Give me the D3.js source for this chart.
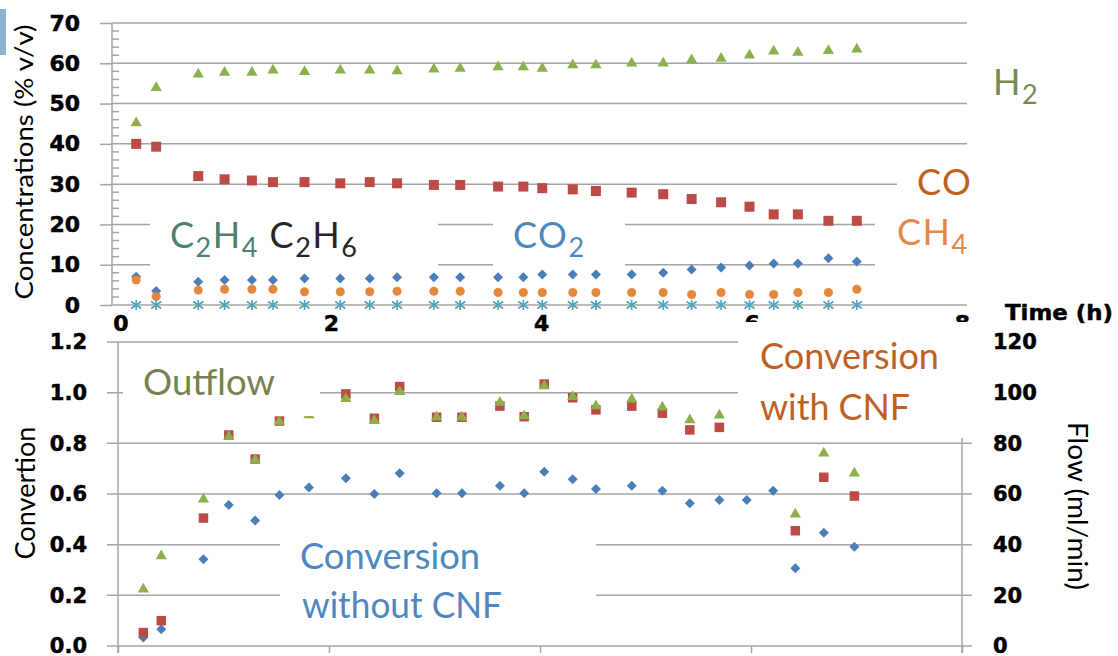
<!DOCTYPE html>
<html>
<head>
<meta charset="utf-8">
<script src="https://cdn.jsdelivr.net/npm/d3@7"></script>
<style>
  html, body { margin: 0; padding: 0; background: #fff; }
  svg { display: block; }
</style>
</head>
<body>
<div id="chart"></div>
<script>
var width = 1118;
var height = 656;

// top panel: gas concentrations (% v/v) against time (h)
var timeConc = [0.15, 0.34, 0.74, 0.99, 1.25, 1.45, 1.75, 2.09, 2.37, 2.63, 2.98, 3.23, 3.59,
                3.83, 4.01, 4.30, 4.52, 4.86, 5.16, 5.43, 5.71, 5.98, 6.21, 6.44, 6.73, 7.00];
var h2  = [45.2, 53.9, 57.3, 57.7, 57.7, 58.3, 57.9, 58.3, 58.3, 58.1, 58.5, 58.7, 59.1,
           59.1, 58.7, 59.6, 59.6, 60.0, 60.0, 60.8, 61.2, 62.0, 63.0, 62.7, 63.1, 63.5];
var co  = [40.0, 39.3, 32.0, 31.2, 30.9, 30.5, 30.5, 30.2, 30.5, 30.2, 29.8, 29.8, 29.4,
           29.4, 29.0, 28.7, 28.3, 27.9, 27.5, 26.3, 25.5, 24.4, 22.5, 22.5, 20.9, 20.9];
var co2 = [7.0, 3.5, 5.8, 6.2, 6.2, 6.2, 6.6, 6.6, 6.6, 6.9, 6.9, 6.9, 6.9,
           6.9, 7.6, 7.6, 7.6, 7.6, 8.0, 8.8, 9.3, 9.8, 10.3, 10.3, 11.6, 10.8];
var ch4 = [6.2, 2.1, 3.7, 3.9, 3.9, 3.9, 3.3, 3.3, 3.3, 3.4, 3.4, 3.4, 3.1,
           3.1, 3.1, 3.1, 3.1, 3.1, 3.1, 2.6, 3.1, 2.6, 2.6, 3.1, 3.1, 3.9];
var c2h4 = [0, 0, 0, 0, 0, 0, 0, 0, 0, 0, 0, 0, 0,
            0, 0, 0, 0, 0, 0, 0, 0, 0, 0, 0, 0, 0];
var concTicks = [0, 10, 20, 30, 40, 50, 60, 70];
var timeTicks = [0, 2, 4, 6, 8];

// bottom panel: conversion and outflow against time (h)
var timeConv = [0.24, 0.41, 0.81, 1.05, 1.30, 1.53, 1.81, 2.16, 2.43, 2.67, 3.02, 3.26, 3.62,
                3.85, 4.04, 4.31, 4.53, 4.87, 5.16, 5.42, 5.70, 5.96, 6.21, 6.42, 6.69, 6.98];
var outflow = [22.4, 35.5, 57.9, 82.6, 73.4, 88.6, 91.2, 97.6, 88.9, 100.4, 90.3, 90.3, 96.1,
               90.8, 102.6, 98.4, 94.7, 97.4, 94.2, 89.2, 91.1, null, null, 52.0, 76.1, 68.2];
var convWith = [0.053, 0.100, 0.505, 0.833, 0.738, 0.888, null, 0.995, 0.899, 1.024, 0.903, 0.903, 0.947,
                0.905, 1.034, 0.980, 0.932, 0.947, 0.919, 0.853, 0.863, null, null, 0.455, 0.666, 0.592];
var convWithout = [0.034, 0.066, 0.342, 0.557, 0.495, 0.596, 0.626, 0.662, 0.600, 0.682, 0.603, 0.603, 0.633,
                   0.603, 0.688, 0.658, 0.620, 0.633, 0.613, 0.563, 0.576, 0.576, 0.613, 0.307, 0.447, 0.392];
var convTicks = [0, 0.2, 0.4, 0.6, 0.8, 1.0, 1.2];
var flowTicks = [0, 20, 40, 60, 80, 100, 120];

var GRID = "#a4a4a4";
var TICK_FONT = "'DejaVu Sans', sans-serif";
var LABEL_FONT = "Lato, 'Open Sans', sans-serif";

var symDiamond = {
  draw: function(ctx, size) {
    var r = Math.sqrt(size / 2);
    ctx.moveTo(0, -r); ctx.lineTo(r, 0); ctx.lineTo(0, r); ctx.lineTo(-r, 0); ctx.closePath();
  }
};
var symStar = {
  draw: function(ctx, size) {
    var r = Math.sqrt(size) / 2;
    ctx.moveTo(0, -r); ctx.lineTo(0, r);
    ctx.moveTo(-r, -r * 0.7); ctx.lineTo(r, r * 0.7);
    ctx.moveTo(-r, r * 0.7); ctx.lineTo(r, -r * 0.7);
  }
};

function drawSeries(g, xs, ys, x, y, type, size, fill, stroke) {
  var pts = xs.map(function(t, i) { return [t, ys[i]]; })
    .filter(function(d) { return d[1] !== null; });
  g.append("g").selectAll("path")
    .data(pts)
    .enter()
    .append("path")
    .attr("transform", function(d) { return "translate(" + x(d[0]) + "," + y(d[1]) + ")"; })
    .attr("d", d3.symbol().type(type).size(size))
    .attr("fill", fill || "none")
    .attr("stroke", stroke || "none")
    .attr("stroke-width", stroke ? 1.6 : 0);
}

function styleAxis(g, size) {
  g.select(".domain").remove();
  g.selectAll(".tick line").attr("stroke", GRID).attr("stroke-width", 1.5);
  g.selectAll(".tick text")
    .attr("fill", "#000")
    .attr("stroke", "#000")
    .attr("stroke-width", 0.5)
    .attr("font-family", TICK_FONT)
    .attr("font-weight", "bold")
    .attr("font-size", size);
}

function whiteBoxes(svg, boxes) {
  svg.append("g").selectAll("rect")
    .data(boxes)
    .enter()
    .append("rect")
    .attr("x", function(d) { return d[0]; })
    .attr("y", function(d) { return d[1]; })
    .attr("width", function(d) { return d[2]; })
    .attr("height", function(d) { return d[3]; })
    .attr("fill", "#fff");
}

// text with chemical subscripts: parts = [[text, isSub, colour], ...]
function chemLabel(svg, x, y, parts, color, size) {
  var t = svg.append("text")
    .attr("x", x).attr("y", y)
    .attr("font-family", LABEL_FONT)
    .attr("font-size", size)
    .attr("letter-spacing", 1.5);
  var down = false;
  parts.forEach(function(p) {
    var s = t.append("tspan").text(p[0]).attr("fill", p[2] || color);
    if (p[1]) {
      s.attr("font-size", size * 0.75).attr("dy", down ? 0 : 9);
      down = true;
    } else {
      s.attr("dy", down ? -9 : 0);
      down = false;
    }
  });
}

function plainLabel(svg, x, y, txt, color, size, len) {
  svg.append("text")
    .attr("x", x).attr("y", y)
    .attr("font-family", LABEL_FONT)
    .attr("font-size", size)
    .attr("fill", color)
    .attr("textLength", len)
    .attr("lengthAdjust", "spacingAndGlyphs")
    .text(txt);
}

function drawTopPanel(svg) {
  var x = d3.scaleLinear().domain([-0.08, 8]).range([112, 962]);
  var y = d3.scaleLinear().domain([0, 70]).range([305, 23]);

  svg.append("g").selectAll("line")
    .data(concTicks)
    .enter()
    .append("line")
    .attr("x1", 112).attr("x2", 967)
    .attr("y1", function(d) { return y(d); })
    .attr("y2", function(d) { return y(d); })
    .attr("stroke", GRID).attr("stroke-width", 1.5);

  // minor ticks every 2 units
  var minor = d3.range(0, 70, 2).filter(function(d) { return d % 10 !== 0; });
  svg.append("g").selectAll("line")
    .data(minor)
    .enter()
    .append("line")
    .attr("x1", 112).attr("x2", 119)
    .attr("y1", function(d) { return y(d); })
    .attr("y2", function(d) { return y(d); })
    .attr("stroke", GRID).attr("stroke-width", 1.5);

  svg.append("line")
    .attr("x1", 112).attr("x2", 112).attr("y1", 23).attr("y2", 305)
    .attr("stroke", GRID).attr("stroke-width", 1.5);

  var ya = svg.append("g")
    .attr("transform", "translate(112,0)")
    .call(d3.axisLeft(y).tickValues(concTicks).tickSizeInner(12).tickSizeOuter(0).tickPadding(20));
  styleAxis(ya, 22);

  var xa = svg.append("g")
    .attr("transform", "translate(0,305)")
    .call(d3.axisBottom(x).tickValues(timeTicks).tickSize(0).tickPadding(10).tickFormat(d3.format("d")));
  styleAxis(xa, 22);

  drawSeries(svg, timeConc, h2, x, y, d3.symbolTriangle, 55, "#8db04c");
  drawSeries(svg, timeConc, co, x, y, d3.symbolSquare, 100, "#bc4a47");
  drawSeries(svg, timeConc, co2, x, y, symDiamond, 50, "#4a7ebb");
  drawSeries(svg, timeConc, ch4, x, y, d3.symbolCircle, 64, "#e6883c");
  drawSeries(svg, timeConc, c2h4, x, y, symStar, 100, null, "#4aa5c0");

  whiteBoxes(svg, [[150, 200, 288, 68], [493, 200, 132, 68], [897, 147, 95, 52], [875, 203, 115, 82]]);

  chemLabel(svg, 993, 95, [["H"], ["2", true]], "#798a51", 36);
  chemLabel(svg, 917, 195, [["CO"]], "#c0601f", 36);
  chemLabel(svg, 897, 245, [["CH"], ["4", true]], "#e5874a", 36);
  chemLabel(svg, 513, 248, [["CO"], ["2", true]], "#4e87bf", 36);
  chemLabel(svg, 170, 248, [["C"], ["2", true], ["H"], ["4", true], [" C", false, "#262626"],
                            ["2", true, "#262626"], ["H", false, "#262626"], ["6", true, "#262626"]], "#4e8072", 36);

  svg.append("text")
    .attr("transform", "translate(33,162) rotate(-90)")
    .attr("text-anchor", "middle")
    .attr("font-family", LABEL_FONT)
    .attr("font-size", 25)
    .attr("fill", "#000")
    .attr("textLength", 275)
    .attr("lengthAdjust", "spacingAndGlyphs")
    .text("Concentrations (% v/v)");

  svg.append("text")
    .attr("x", 1005).attr("y", 320)
    .attr("font-family", TICK_FONT)
    .attr("font-weight", "bold")
    .attr("font-size", 22)
    .attr("stroke", "#000")
    .attr("stroke-width", 0.5)
    .attr("textLength", 108)
    .attr("lengthAdjust", "spacingAndGlyphs")
    .text("Time (h)");
}

function drawBottomPanel(svg) {
  var x = d3.scaleLinear().domain([0, 8]).range([118, 962]);
  var y = d3.scaleLinear().domain([0, 1.2]).range([646, 342]);
  var yFlow = d3.scaleLinear().domain([0, 120]).range([646, 342]);

  svg.append("g").selectAll("line")
    .data(convTicks)
    .enter()
    .append("line")
    .attr("x1", 107).attr("x2", 972)
    .attr("y1", function(d) { return y(d); })
    .attr("y2", function(d) { return y(d); })
    .attr("stroke", GRID).attr("stroke-width", 1.5);

  svg.append("line")
    .attr("x1", 118).attr("x2", 118).attr("y1", 342).attr("y2", 653)
    .attr("stroke", GRID).attr("stroke-width", 1.5);
  svg.append("line")
    .attr("x1", 962).attr("x2", 962).attr("y1", 342).attr("y2", 653)
    .attr("stroke", GRID).attr("stroke-width", 1.5);

  // the time labels of this panel fall below the picture, only the tick marks show
  var xa = svg.append("g")
    .attr("transform", "translate(0,646)")
    .call(d3.axisBottom(x).tickValues(timeTicks).tickSize(7).tickFormat(""));
  styleAxis(xa, 21);

  drawSeries(svg, timeConv, convWithout, x, y, symDiamond, 50, "#4a7ebb");
  drawSeries(svg, timeConv, convWith, x, y, d3.symbolSquare, 90, "#bc4a47");
  drawSeries(svg, timeConv, outflow, x, yFlow, d3.symbolTriangle, 55, "#8db04c");

  whiteBoxes(svg, [[123, 350, 197, 66], [738, 322, 247, 116], [280, 525, 316, 100]]);

  var ya = svg.append("g")
    .attr("transform", "translate(118,0)")
    .call(d3.axisLeft(y).tickValues(convTicks).tickSize(0).tickPadding(31).tickFormat(d3.format(".1f")));
  styleAxis(ya, 21);

  var yr = svg.append("g")
    .attr("transform", "translate(962,0)")
    .call(d3.axisRight(yFlow).tickValues(flowTicks).tickSize(0).tickPadding(31));
  styleAxis(yr, 21);

  plainLabel(svg, 143, 395, "Outflow", "#77814f", 36, 132);
  plainLabel(svg, 760, 369, "Conversion", "#c0601f", 36, 179);
  plainLabel(svg, 760, 420, "with CNF", "#c0601f", 36, 150);
  plainLabel(svg, 300, 569, "Conversion", "#4e87bf", 36, 180);
  plainLabel(svg, 302, 618, "without CNF", "#4e87bf", 36, 200);

  svg.append("text")
    .attr("transform", "translate(35,493) rotate(-90)")
    .attr("text-anchor", "middle")
    .attr("font-family", LABEL_FONT)
    .attr("font-size", 26)
    .attr("fill", "#000")
    .attr("textLength", 133)
    .attr("lengthAdjust", "spacingAndGlyphs")
    .text("Convertion");

  svg.append("text")
    .attr("transform", "translate(1068,506) rotate(90)")
    .attr("text-anchor", "middle")
    .attr("font-family", LABEL_FONT)
    .attr("font-size", 26)
    .attr("fill", "#000")
    .attr("textLength", 168)
    .attr("lengthAdjust", "spacingAndGlyphs")
    .text("Flow (ml/min)");
}

function main() {
  var svg = d3.select("#chart")
    .append("svg")
    .attr("width", width)
    .attr("height", height);

  svg.append("rect").attr("width", width).attr("height", height).attr("fill", "#fff");
  // small blue slide marker at the top left
  svg.append("rect").attr("x", 0).attr("y", 9).attr("width", 6).attr("height", 46).attr("fill", "#8fb3d5");

  drawTopPanel(svg);
  drawBottomPanel(svg);
}

window.onload = function() {
  main();
};
</script>
</body>
</html>
